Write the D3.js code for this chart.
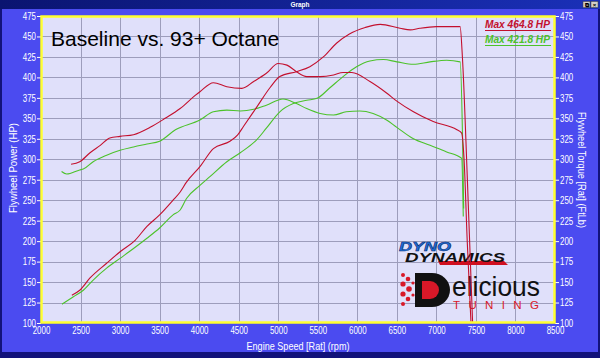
<!DOCTYPE html>
<html><head><meta charset="utf-8">
<script src="https://cdn.jsdelivr.net/npm/d3@7"></script>
<style>
html,body{margin:0;padding:0;background:#4b4bf0;}
svg{display:block;font-family:Arial,"Liberation Sans",sans-serif;}
</style></head>
<body>
<svg id="chart" width="600" height="358"></svg>
<script>
// ---- data ----
const xTicks = [2000,2500,3000,3500,4000,4500,5000,5500,6000,6500,7000,7500,8000,8500];
const yTicks = [100,125,150,175,200,225,250,275,300,325,350,375,400,425,450,475];

const redPowerRpm = [2390,2490,2620,2830,3000,3190,3340,3500,3670,3760,3840,4010,4180,4390,4490,4560,4730,4900,5020,5230,5400,5570,5740,5900,6100,6290,6540,6670,6790,7000,7300,7330,7390,7460];
const redPowerHp  = [134,140,155,173,187,201,218,232,250,260,272,291,313,322,330,340,364,388,401,407,413,425,442,453,461,464.8,460,458,460,462,462,423,280,95];

const redTorqueRpm = [2380,2490,2620,2750,2870,3000,3170,3380,3570,3760,3950,4010,4180,4350,4540,4690,4850,5000,5110,5230,5360,5530,5700,5820,5930,6160,6370,6500,6710,6960,7260,7320,7350,7390,7440];
const redTorqueFtlb = [294,297,308,317,326,328,330,339,350,362,378,382.5,393.5,388.6,386.6,395,405,417,415,407,401,401,403,406,406,395,381,371,358,346,336,332,300,200,95];

const greenPowerRpm = [2266,2410,2535,2660,2830,3000,3170,3340,3500,3670,3760,3840,4010,4140,4350,4520,4730,4850,5020,5190,5360,5490,5650,5820,5990,6160,6330,6500,6710,6920,7130,7300,7330,7345];
const greenPowerHp  = [123,132,140,152.5,167,179,191,203.5,216,232,238,252,268,279,297,308,324,338,358,368,372,374.4,387,401,413,420,421.8,419,416,419,421,419,330,240];

const greenTorqueRpm = [2260,2325,2490,2535,2660,2830,3000,3170,3340,3500,3700,4010,4180,4350,4520,4690,4850,5060,5230,5360,5530,5700,5860,6030,6200,6370,6500,6710,6920,7130,7320,7340];
const greenTorqueFtlb = [285,282,287,288,297,305,311,315,318.6,322,336,348,358,360,359,361,366,373.6,368,362,356,354,358,359,356,348,339,325,317,309,301,230];

const legendLabels = ["Max 464.8 HP","Max 421.8 HP"];
const titleText = "Baseline vs. 93+ Octane";

// ---- layout ----
const W=600,H=358;
const L=41,R=555,T=16,B=323;
const RED="#c3102e", GREEN="#4cc22a";
const DIGIT=4.4;

const svg=d3.select("#chart");
svg.append("rect").attr("x",0).attr("y",0).attr("width",W).attr("height",H).attr("fill","#12127a");
svg.append("rect").attr("x",2).attr("y",9).attr("width",W-4).attr("height",H-15).attr("fill","#4b4bf0");
const defs=svg.append("defs");
const g1=defs.append("linearGradient").attr("id","tb").attr("x1",0).attr("x2",1);
g1.append("stop").attr("offset","0").attr("stop-color","#0a1470");
g1.append("stop").attr("offset","1").attr("stop-color","#1a30b8");
svg.append("rect").attr("x",0).attr("y",0).attr("width",W).attr("height",9).attr("fill","url(#tb)");
svg.append("text").attr("x",300).attr("y",7).attr("text-anchor","middle").attr("fill","#fff")
  .attr("font-size",6.5).attr("font-weight","bold").text("Graph");
[583,591].forEach((bx,i)=>{
  svg.append("rect").attr("x",bx).attr("y",1.5).attr("width",7).attr("height",6).attr("fill","#d4d0c8").attr("stroke","#404040").attr("stroke-width",0.5);
  svg.append("text").attr("x",bx+3.5).attr("y",6.8).attr("text-anchor","middle").attr("font-size",6).attr("font-weight","bold").attr("fill","#000").text(i? "×":"⧉");
});
svg.append("rect").attr("x",0).attr("y",352).attr("width",W).attr("height",6).attr("fill","#12127a");

const x=d3.scaleLinear().domain([2000,8500]).range([L,R]);
const y=d3.scaleLinear().domain([100,475]).range([B,T]);

svg.append("rect").attr("x",L).attr("y",T).attr("width",R-L).attr("height",B-T).attr("fill","#e0e0fa");
const grid=svg.append("g").attr("stroke","#9d9dbb").attr("stroke-width",1);
xTicks.slice(1,-1).forEach(t=>grid.append("line").attr("x1",Math.round(x(t))+0.5).attr("x2",Math.round(x(t))+0.5).attr("y1",T).attr("y2",B));
yTicks.slice(1,-1).forEach(t=>grid.append("line").attr("y1",Math.round(y(t))+0.5).attr("y2",Math.round(y(t))+0.5).attr("x1",L).attr("x2",R));

const axL=svg.append("g").attr("transform",`translate(${L},0)`).call(d3.axisLeft(y).tickValues(yTicks).tickSize(4).tickPadding(1).tickFormat(d3.format("d")));
const axR=svg.append("g").attr("transform",`translate(${R},0)`).call(d3.axisRight(y).tickValues(yTicks).tickSize(4).tickPadding(1).tickFormat(d3.format("d")));
const axB=svg.append("g").attr("transform",`translate(0,${B})`).call(d3.axisBottom(x).tickValues(xTicks).tickSize(0).tickPadding(4).tickFormat(d3.format("d")));
[axL,axR,axB].forEach(a=>{
  a.select(".domain").remove();
  a.selectAll("line").attr("stroke","#fff");
  a.selectAll("text").attr("fill","#fff").attr("font-size",10.5).attr("font-family","Arial, 'Liberation Sans', sans-serif")
    .attr("textLength",function(){return this.textContent.length*DIGIT;}).attr("lengthAdjust","spacingAndGlyphs");
});

svg.append("text").attr("transform","translate(16.5,168) rotate(-90)").attr("text-anchor","middle")
  .attr("fill","#fff").attr("font-size",10.5).attr("textLength",90).attr("lengthAdjust","spacingAndGlyphs").text("Flywheel Power (HP)");
svg.append("text").attr("transform","translate(577.5,170) rotate(90)").attr("text-anchor","middle")
  .attr("fill","#fff").attr("font-size",10.5).attr("textLength",116).attr("lengthAdjust","spacingAndGlyphs").text("Flywheel Torque [Rat] (FtLb)");
svg.append("text").attr("x",298).attr("y",350).attr("text-anchor","middle")
  .attr("fill","#fff").attr("font-size",10.5).attr("textLength",103).attr("lengthAdjust","spacingAndGlyphs").text("Engine Speed [Rat] (rpm)");

defs.append("clipPath").attr("id","clip").append("rect").attr("x",L).attr("y",T).attr("width",R-L).attr("height",B-T);

svg.append("text").attr("x",51).attr("y",46).attr("fill","#000").attr("font-size",21).text(titleText);

// logo
const logo=svg.append("g");
logo.append("text").attr("x",399).attr("y",251).attr("font-size",12).attr("font-weight","900").attr("font-style","italic")
  .attr("fill","#1e6fd9").attr("stroke","#0a2a70").attr("stroke-width",0.5).attr("textLength",52).attr("lengthAdjust","spacingAndGlyphs").text("DYNO");
logo.append("path").attr("d","M438 261 L504 261 L508 265 L440 265 Z").attr("fill","#d01020");
logo.append("text").attr("x",405).attr("y",262).attr("font-size",12).attr("font-weight","900").attr("font-style","italic")
  .attr("fill","#111").attr("textLength",100).attr("lengthAdjust","spacingAndGlyphs").text("DYNAMICS");
const dots=[[403,275,2],[408,279,2.3],[403,284,2.6],[409,289,2.8],[403,294,2.6],[408,299,2.3],[403,304,2],[413,283,1.6],[413,295,1.6]];
dots.forEach(d=>logo.append("circle").attr("cx",d[0]).attr("cy",d[1]).attr("r",d[2]).attr("fill","#d81828"));
logo.append("path").attr("d","M415 273 L432 273 A18 17 0 0 1 432 307 L415 307 Z").attr("fill","#111");
logo.append("path").attr("d","M422 281 L430 281 A9 9 0 0 1 430 299 L422 299 Z").attr("fill","#d81828");
logo.append("text").attr("x",452).attr("y",296).attr("font-size",28).attr("fill","#111").attr("textLength",88).attr("lengthAdjust","spacingAndGlyphs").text("elicious");
logo.append("text").attr("x",453).attr("y",308.5).attr("font-size",11.5).attr("fill","#d81828").attr("textLength",86).attr("lengthAdjust","spacing").text("TUNING");

const line=d3.line().x(d=>x(d[0])).y(d=>y(d[1])).curve(d3.curveMonotoneX);
const series=[
  [greenPowerRpm,greenPowerHp,GREEN],[greenTorqueRpm,greenTorqueFtlb,GREEN],
  [redPowerRpm,redPowerHp,RED],[redTorqueRpm,redTorqueFtlb,RED]
];
const lg=svg.append("g").attr("clip-path","url(#clip)");
series.forEach(s=>{
  const pts=s[0].map((r,i)=>[r,s[1][i]]);
  lg.append("path").attr("d",line(pts)).attr("fill","none").attr("stroke",s[2]).attr("stroke-width",1.1);
});

const legColors=[RED,GREEN];
legendLabels.forEach((t,i)=>{
  const yy=28+i*15;
  svg.append("text").attr("x",485).attr("y",yy).attr("font-size",11).attr("font-weight","bold").attr("font-style","italic")
    .attr("fill",legColors[i]).attr("textLength",65).attr("lengthAdjust","spacingAndGlyphs").text(t);
  svg.append("line").attr("x1",485).attr("x2",551).attr("y1",yy+2.5).attr("y2",yy+2.5).attr("stroke",legColors[i]).attr("stroke-width",1);
});

svg.append("rect").attr("x",L+0.5).attr("y",T+0.5).attr("width",R-L-1).attr("height",B-T-1).attr("fill","none").attr("stroke","#ffff30").attr("stroke-width",2.5);
</script>
</body></html>
